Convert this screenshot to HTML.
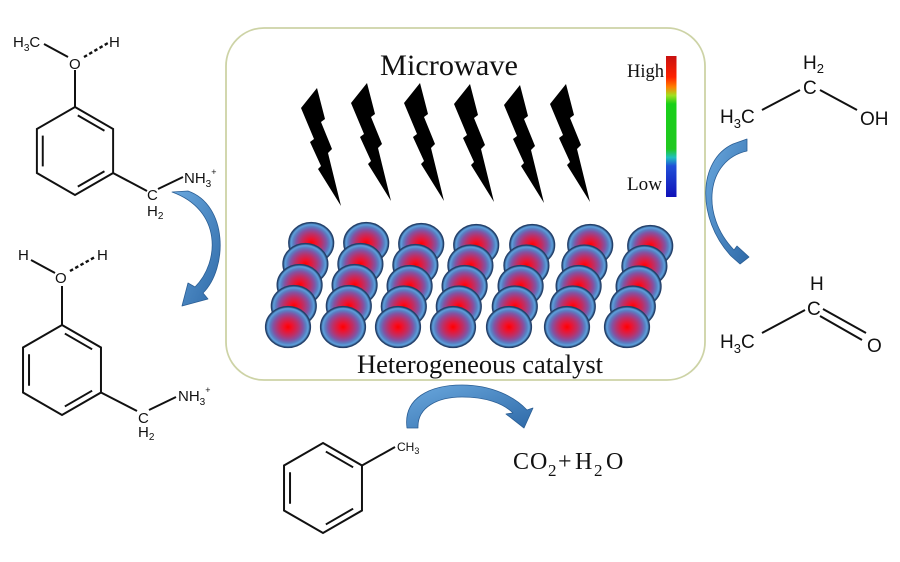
<!DOCTYPE html>
<html><head><meta charset="utf-8">
<style>
html,body{margin:0;padding:0;background:#fff;}
svg{display:block;}
.m{font-family:"Liberation Sans",Arial,sans-serif;fill:#111;}
.s{font-family:"Liberation Serif","Times New Roman",serif;fill:#111;}
</style></head>
<body>
<svg width="900" height="562" viewBox="0 0 900 562" xmlns="http://www.w3.org/2000/svg">
<defs>
  <radialGradient id="sph" cx="50%" cy="50%" r="50%">
    <stop offset="0" stop-color="#ff0000"/>
    <stop offset="0.18" stop-color="#f2102a"/>
    <stop offset="0.45" stop-color="#bc3068"/>
    <stop offset="0.66" stop-color="#8452a2"/>
    <stop offset="0.8" stop-color="#5a7ec2"/>
    <stop offset="0.9" stop-color="#5ea0dc"/>
    <stop offset="1" stop-color="#23406a"/>
  </radialGradient>
  <linearGradient id="bar" x1="0" y1="0" x2="0" y2="1">
    <stop offset="0" stop-color="#c81010"/>
    <stop offset="0.15" stop-color="#ff2200"/>
    <stop offset="0.22" stop-color="#ff8000"/>
    <stop offset="0.28" stop-color="#a0e020"/>
    <stop offset="0.34" stop-color="#18d018"/>
    <stop offset="0.66" stop-color="#20c820"/>
    <stop offset="0.72" stop-color="#20c0c0"/>
    <stop offset="0.78" stop-color="#2050d8"/>
    <stop offset="1" stop-color="#1010b8"/>
  </linearGradient>
  <linearGradient id="arr" x1="0" y1="0" x2="1" y2="1">
    <stop offset="0" stop-color="#6aa8de"/>
    <stop offset="1" stop-color="#2f6aa8"/>
  </linearGradient>
  <g id="ring" fill="none" stroke="#111" stroke-width="2">
    <polygon points="0,-45 38.97,-22.5 38.97,22.5 0,45 -38.97,22.5 -38.97,-22.5"/>
    <line x1="2.85" y1="-36.43" x2="30.12" y2="-20.68"/>
    <line x1="-32.97" y1="-15.75" x2="-32.97" y2="15.75"/>
    <line x1="2.85" y1="36.43" x2="30.12" y2="20.68"/>
  </g>
  <polygon id="bolt" points="0,0 8,31 4,34 15,61 11,65 24,118 1,81 4,78 -7,54 -3,51 -16,20" fill="#000"/>
</defs>

<!-- central box -->
<rect x="226" y="28" width="479" height="352" rx="38" ry="38" fill="#fff" stroke="#cdd3a6" stroke-width="1.8"/>

<text class="s" x="380" y="75" font-size="30" textLength="138" lengthAdjust="spacingAndGlyphs">Microwave</text>

<!-- bolts -->
<use href="#bolt" transform="translate(317,88)"/>
<use href="#bolt" transform="translate(367,83)"/>
<use href="#bolt" transform="translate(420,83)"/>
<use href="#bolt" transform="translate(470,84)"/>
<use href="#bolt" transform="translate(520,85)"/>
<use href="#bolt" transform="translate(566,84)"/>

<!-- colour bar -->
<rect x="666" y="56" width="10.5" height="141" fill="url(#bar)"/>
<text class="s" x="627" y="77" font-size="19" textLength="37" lengthAdjust="spacingAndGlyphs">High</text>
<text class="s" x="627" y="190" font-size="19" textLength="35" lengthAdjust="spacingAndGlyphs">Low</text>

<!-- spheres (back rows first) -->
<g stroke="#24406a" stroke-width="1.2" fill="url(#sph)">
  <!-- row 4 -->
  <ellipse cx="311.2" cy="243" rx="22.5" ry="20.5"/>
  <ellipse cx="366.2" cy="243" rx="22.5" ry="20.5"/>
  <ellipse cx="421.2" cy="244" rx="22.5" ry="20.5"/>
  <ellipse cx="476.2" cy="245" rx="22.5" ry="20.5"/>
  <ellipse cx="532.2" cy="245" rx="22.5" ry="20.5"/>
  <ellipse cx="590.2" cy="245" rx="22.5" ry="20.5"/>
  <ellipse cx="650.2" cy="246" rx="22.5" ry="20.5"/>
  <!-- row 3 -->
  <ellipse cx="305.4" cy="264" rx="22.5" ry="20.5"/>
  <ellipse cx="360.4" cy="264" rx="22.5" ry="20.5"/>
  <ellipse cx="415.4" cy="265" rx="22.5" ry="20.5"/>
  <ellipse cx="470.4" cy="265.5" rx="22.5" ry="20.5"/>
  <ellipse cx="526.4" cy="265.5" rx="22.5" ry="20.5"/>
  <ellipse cx="584.4" cy="265.5" rx="22.5" ry="20.5"/>
  <ellipse cx="644.4" cy="266" rx="22.5" ry="20.5"/>
  <!-- row 2 -->
  <ellipse cx="299.6" cy="285" rx="22.5" ry="20.5"/>
  <ellipse cx="354.6" cy="285" rx="22.5" ry="20.5"/>
  <ellipse cx="409.6" cy="286" rx="22.5" ry="20.5"/>
  <ellipse cx="464.6" cy="286" rx="22.5" ry="20.5"/>
  <ellipse cx="520.6" cy="286" rx="22.5" ry="20.5"/>
  <ellipse cx="578.6" cy="286" rx="22.5" ry="20.5"/>
  <ellipse cx="638.6" cy="286.5" rx="22.5" ry="20.5"/>
  <!-- row 1 -->
  <ellipse cx="293.8" cy="306" rx="22.5" ry="20.5"/>
  <ellipse cx="348.8" cy="306" rx="22.5" ry="20.5"/>
  <ellipse cx="403.8" cy="306.5" rx="22.5" ry="20.5"/>
  <ellipse cx="458.8" cy="306.5" rx="22.5" ry="20.5"/>
  <ellipse cx="514.8" cy="306.5" rx="22.5" ry="20.5"/>
  <ellipse cx="572.8" cy="306.5" rx="22.5" ry="20.5"/>
  <ellipse cx="632.8" cy="306.5" rx="22.5" ry="20.5"/>
  <!-- row 0 front -->
  <ellipse cx="288" cy="327" rx="22.5" ry="20.5"/>
  <ellipse cx="343" cy="327" rx="22.5" ry="20.5"/>
  <ellipse cx="398" cy="327" rx="22.5" ry="20.5"/>
  <ellipse cx="453" cy="327" rx="22.5" ry="20.5"/>
  <ellipse cx="509" cy="327" rx="22.5" ry="20.5"/>
  <ellipse cx="567" cy="327" rx="22.5" ry="20.5"/>
  <ellipse cx="627" cy="327" rx="22.5" ry="20.5"/>
</g>

<text class="s" x="357" y="373" font-size="26" textLength="246" lengthAdjust="spacingAndGlyphs">Heterogeneous catalyst</text>

<!-- blue curved arrows -->
<g fill="url(#arr)" stroke="#2b5e94" stroke-width="0.8" stroke-linejoin="round">
  <path d="M172,192 L188,191 C228,205 228,268 203,293 L208,299 L182,306 L188,283 L195,287 C220,262 222,210 172,192 Z"/>
  <path d="M747,139 L747,151 C706,160 700,215 734,250 L737,246 L749,257 L740,264 L731,256 C696,218 698,160 733,144 Z"/>
  <path d="M407,428 C403,398 430,385 462,385 C492,385 515,397 527,410 L533,408 L524,428 L506,414 L513,413 C503,403 485,397 462,397 C438,397 417,407 418,428 Z"/>
</g>

<!-- molecule 1 (top-left) -->
<use href="#ring" transform="translate(75,151) scale(0.978)"/>
<g stroke="#111" stroke-width="2" fill="none">
  <line x1="44" y1="44" x2="68" y2="57"/>
  <line x1="84" y1="57" x2="108" y2="43" stroke-dasharray="3.5 2.5" stroke-width="2.4"/>
  <line x1="75" y1="70" x2="75" y2="107"/>
  <line x1="113" y1="173" x2="147" y2="191"/>
  <line x1="158" y1="189" x2="183" y2="177"/>
</g>
<g class="m" font-size="15">
  <text x="13" y="47">H<tspan font-size="10" dy="4">3</tspan><tspan dy="-4">C</tspan></text>
  <text x="69" y="69">O</text>
  <text x="109" y="47">H</text>
  <text x="147" y="200">C</text>
  <text x="147" y="216">H<tspan font-size="10" dy="3">2</tspan></text>
  <text x="184" y="183">NH<tspan font-size="10" dy="4">3</tspan><tspan font-size="9" dy="-12">+</tspan></text>
</g>

<!-- molecule 2 (bottom-left) -->
<use href="#ring" transform="translate(62,370)"/>
<g stroke="#111" stroke-width="2" fill="none">
  <line x1="31" y1="260" x2="55" y2="273"/>
  <line x1="70" y1="271" x2="95" y2="257" stroke-dasharray="3.5 2.5" stroke-width="2.4"/>
  <line x1="62" y1="286" x2="62" y2="325"/>
  <line x1="101" y1="392.5" x2="137" y2="411"/>
  <line x1="149" y1="410" x2="176" y2="397"/>
</g>
<g class="m" font-size="15">
  <text x="18" y="260">H</text>
  <text x="55" y="283">O</text>
  <text x="97" y="260">H</text>
  <text x="138" y="423">C</text>
  <text x="138" y="437">H<tspan font-size="10" dy="3">2</tspan></text>
  <text x="178" y="401">NH<tspan font-size="10" dy="4">3</tspan><tspan font-size="9" dy="-12">+</tspan></text>
</g>

<!-- ethanol (top-right) -->
<g stroke="#111" stroke-width="2" fill="none">
  <line x1="762" y1="110" x2="800" y2="90"/>
  <line x1="820" y1="90" x2="857" y2="110"/>
</g>
<g class="m" font-size="19">
  <text x="720" y="123">H<tspan font-size="13" dy="5">3</tspan><tspan dy="-5">C</tspan></text>
  <text x="803" y="69">H<tspan font-size="13" dy="4">2</tspan></text>
  <text x="803" y="94">C</text>
  <text x="860" y="125">OH</text>
</g>

<!-- acetaldehyde (bottom-right) -->
<g stroke="#111" stroke-width="2" fill="none">
  <line x1="762" y1="333" x2="805" y2="310"/>
  <line x1="823" y1="309" x2="866" y2="333"/>
  <line x1="820" y1="316" x2="862" y2="340"/>
</g>
<g class="m" font-size="19">
  <text x="810" y="290">H</text>
  <text x="807" y="315">C</text>
  <text x="720" y="348">H<tspan font-size="13" dy="5">3</tspan><tspan dy="-5">C</tspan></text>
  <text x="867" y="352">O</text>
</g>

<!-- toluene -->
<use href="#ring" transform="translate(323,488)"/>
<line x1="362" y1="465.5" x2="395" y2="447" stroke="#111" stroke-width="2"/>
<text class="m" x="397" y="451" font-size="12">CH<tspan font-size="9" dy="3">3</tspan></text>

<!-- CO2 + H2O -->
<text class="s" font-size="24" y="469"><tspan x="513">C</tspan><tspan x="530">O</tspan><tspan x="548" font-size="17" dy="7">2</tspan><tspan x="558" dy="-7">+</tspan><tspan x="575">H</tspan><tspan x="594" font-size="17" dy="7">2</tspan><tspan x="606" dy="-7">O</tspan></text>
</svg>
</body></html>
